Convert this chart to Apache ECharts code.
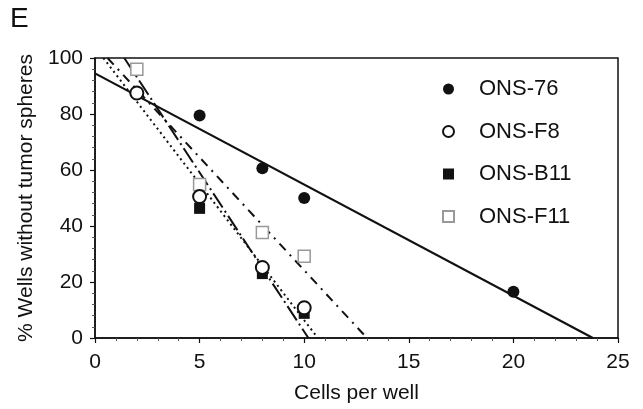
<!DOCTYPE html>
<html>
<head>
<meta charset="utf-8">
<title>E</title>
<script src="https://cdn.jsdelivr.net/npm/echarts@6/dist/echarts.min.js"></script>
<style>
    html, body { margin: 0; padding: 0; background: #fff; }
    #main { width: 643px; height: 409px; }
</style>
</head>
<body>
<div id="main"></div>
<script>
/* data */
var cellsPerWell = [2, 5, 8, 10, 20];
var ons76  = [[2, 87.5], [5, 79.5], [8, 60.6], [10, 50], [20, 16.5]];
var onsF8  = [[2, 87.5], [5, 50.5], [8, 25.2], [10, 10.8]];
var onsB11 = [[5, 46.3], [8, 23], [10, 8.8]];
var onsF11 = [[2, 96], [5, 54.8], [8, 37.7], [10, 29.2]];

/* fitted lines, end points */
var fit76  = [[0, 94.5], [23.8, 0]];
var fitF8  = [[0.4, 100], [10.65, 0]];
var fitB11 = [[1.4, 100], [10.2, 0]];
var fitF11 = [[0.6, 100], [13.0, 0]];

var xTicks = [0, 5, 10, 15, 20, 25];
var yTicks = [0, 20, 40, 60, 80, 100];

(function () {
    'use strict';
    var FONT = "'Liberation Sans', Arial, Helvetica, sans-serif";
    var INK = '#111';

    var chart = echarts.init(document.getElementById('main'), null, { renderer: 'canvas' });

    function fitLine(name, data, dash, width) {
        return {
            name: name,
            type: 'line',
            data: data,
            symbol: 'none',
            silent: true,
            z: 1,
            lineStyle: { color: INK, width: width, type: dash, opacity: 1 }
        };
    }

    function dots(name, data, symbol, size, style) {
        style.opacity = 1;
        return {
            name: name,
            type: 'scatter',
            data: data,
            symbol: symbol,
            symbolSize: size,
            z: 3,
            silent: true,
            itemStyle: style
        };
    }

    var option = {
        animation: false,
        backgroundColor: '#fff',
        textStyle: { fontFamily: FONT, color: INK },
        graphic: [{
            type: 'text',
            left: 10,
            top: 5,
            style: { text: 'E', fontSize: 28, fontFamily: FONT, fontWeight: 'normal', fill: INK }
        }],
        grid: {
            left: 95, right: 25, top: 58, bottom: 67,
            show: true, borderColor: INK, borderWidth: 1.5
        },
        legend: {
            orient: 'vertical',
            left: 437,
            top: 71,
            itemWidth: 11,
            itemHeight: 11,
            itemGap: 16.5,
            selectedMode: false,
            data: [
                { name: 'ONS-76', icon: 'circle' },
                { name: 'ONS-F8', icon: 'circle' },
                { name: 'ONS-B11', icon: 'rect' },
                { name: 'ONS-F11', icon: 'rect' }
            ],
            textStyle: { fontFamily: FONT, fontSize: 22, color: INK, lineHeight: 26, padding: [0, 0, 0, 20] }
        },
        xAxis: {
            type: 'value',
            min: xTicks[0],
            max: xTicks[xTicks.length - 1],
            interval: xTicks[1] - xTicks[0],
            name: 'Cells per well',
            nameLocation: 'middle',
            nameGap: 45,
            nameTextStyle: { fontFamily: FONT, fontSize: 21, color: INK },
            axisLine: { lineStyle: { color: INK, width: 1.5 } },
            axisTick: { inside: false, length: 5, lineStyle: { color: INK, width: 1.2 } },
            minorTick: { show: true, splitNumber: 5, length: 3, lineStyle: { color: '#555', width: 1 } },
            splitLine: { show: false },
            axisLabel: { fontFamily: FONT, fontSize: 21, color: INK, margin: 14 }
        },
        yAxis: {
            type: 'value',
            min: yTicks[0],
            max: yTicks[yTicks.length - 1],
            interval: yTicks[1] - yTicks[0],
            name: '% Wells without tumor spheres',
            nameLocation: 'middle',
            nameGap: 56,
            nameTextStyle: { fontFamily: FONT, fontSize: 21, color: INK },
            axisLine: { lineStyle: { color: INK, width: 1.5 } },
            axisTick: { inside: false, length: 5, lineStyle: { color: INK, width: 1.2 } },
            minorTick: { show: true, splitNumber: 5, length: 3, lineStyle: { color: '#555', width: 1 } },
            splitLine: { show: false },
            axisLabel: { fontFamily: FONT, fontSize: 21, color: INK, margin: 12 }
        },
        series: [
            fitLine('fit ONS-76', fit76, 'solid', 2.2),
            fitLine('fit ONS-F8', fitF8, [2, 3.5], 2),
            fitLine('fit ONS-B11', fitB11, [17, 4, 2, 4], 2),
            fitLine('fit ONS-F11', fitF11, [9, 6, 2, 6], 2),
            dots('ONS-76', ons76, 'circle', 12, { color: INK }),
            dots('ONS-B11', onsB11, 'rect', 11, { color: INK }),
            dots('ONS-F11', onsF11, 'rect', 12, { color: '#fff', borderColor: '#999', borderWidth: 1.5 }),
            dots('ONS-F8', onsF8, 'circle', 13, { color: '#fff', borderColor: INK, borderWidth: 2 })
        ]
    };

    chart.setOption(option);
})();
</script>
</body>
</html>
